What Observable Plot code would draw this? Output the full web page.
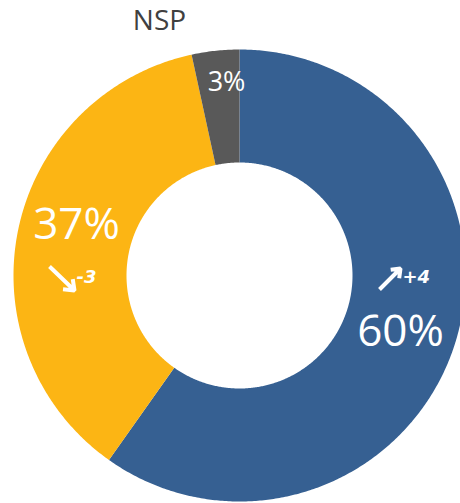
<!DOCTYPE html>
<html><head><meta charset="utf-8">
<script src="https://cdn.jsdelivr.net/npm/d3@7"></script>
<script src="https://cdn.jsdelivr.net/npm/@observablehq/plot@0.6"></script>
<style>html,body{margin:0;padding:0;background:#fff;overflow:hidden}</style>
</head><body><div id="chart"></div>
<script>
// ---- data ----
const categories = ["Oui", "Non", "NSP"];
const values = [59.8, 36.8, 3.4];
const valueLabels = ["60%", "37%", "3%"];
const changes = ["+4", "-3", null];
const trend = ["up", "down", null];

// ---- styles / layout ----
const colors = ["#366092", "#FCB514", "#595959"];
const W = 460, H = 503;
const cx = 239, cy = 275, R = 226;   // pixel centre & outer radius
const innerRatio = 0.5;
const ux = px => (px - cx) / R;
const uy = py => (cy - py) / R;

// label anchor positions (layout only, pixels)
const pctPos = {Oui: [400, 345], Non: [76, 238], NSP: [226, 90]};
const pctSize = {Oui: 44, Non: 44, NSP: 27};
const arrowPos = {Oui: [[379, 289], [400, 268]], Non: [[49, 266], [74, 290]]};
const changePos = {Oui: [402, 282], Non: [76, 282]};
const nspPos = [159, 29];

// ---- build slices ----
const pie = d3.pie().sort(null).value(d => d.value).startAngle(0).endAngle(2 * Math.PI);
const rows = categories.map((c, i) => ({cat: c, value: values[i]}));
const arcs = pie(rows);
const pts = [];
for (const a of arcs) {
  const n = Math.max(2, Math.ceil((a.endAngle - a.startAngle) / (Math.PI / 360)));
  for (let k = 0; k <= n; k++) {
    const t = a.startAngle + (a.endAngle - a.startAngle) * k / n;
    pts.push({cat: a.data.cat, x: Math.sin(t), y: Math.cos(t)});
  }
  for (let k = n; k >= 0; k--) {
    const t = a.startAngle + (a.endAngle - a.startAngle) * k / n;
    pts.push({cat: a.data.cat, x: innerRatio * Math.sin(t), y: innerRatio * Math.cos(t)});
  }
}

const pctRows = categories.map((c, i) => ({cat: c, label: valueLabels[i], x: ux(pctPos[c][0]), y: uy(pctPos[c][1]), size: pctSize[c]}));
const arrowRows = categories.map((c, i) => ({cat: c, t: trend[i]})).filter(d => d.t)
  .map(d => ({...d, x1: ux(arrowPos[d.cat][0][0]), y1: uy(arrowPos[d.cat][0][1]),
                    x2: ux(arrowPos[d.cat][1][0]), y2: uy(arrowPos[d.cat][1][1])}));
const changeRows = categories.map((c, i) => ({cat: c, label: changes[i]})).filter(d => d.label)
  .map(d => ({...d, x: ux(changePos[d.cat][0]), y: uy(changePos[d.cat][1])}));
const nspRow = [{label: categories[2], x: ux(nspPos[0]), y: uy(nspPos[1])}];

const chart = Plot.plot({
  width: W, height: H,
  margin: 0,
  x: {domain: [ux(0), ux(W)], axis: null},
  y: {domain: [uy(H), uy(0)], axis: null},
  color: {domain: categories, range: colors},
  style: {background: "#fff", overflow: "hidden"},
  marks: [
    Plot.line(pts, {x: "x", y: "y", z: "cat", fill: "cat", stroke: null, curve: "linear"}),
    ...pctRows.map(r => Plot.text([r], {x: "x", y: "y", text: "label", fill: "#fff",
      fontSize: r.size, fontFamily: "'Open Sans', sans-serif", textAnchor: "middle", lineAnchor: "bottom"})),
    Plot.arrow(arrowRows, {x1: "x1", y1: "y1", x2: "x2", y2: "y2", stroke: "#fff",
      strokeWidth: 4, headLength: 13, headAngle: 75, strokeLinecap: "butt"}),
    Plot.text(changeRows, {x: "x", y: "y", text: "label", fill: "#fff", fontSize: 18,
      fontWeight: "bold", fontStyle: "italic", fontFamily: "'DejaVu Sans', sans-serif", textAnchor: "start", lineAnchor: "bottom"}),
    Plot.text(nspRow, {x: "x", y: "y", text: "label", fill: "#404040", fontSize: 28,
      fontFamily: "'Open Sans', sans-serif", textAnchor: "middle", lineAnchor: "bottom"})
  ]
});
document.getElementById("chart").appendChild(chart);
</script>
</body></html>
